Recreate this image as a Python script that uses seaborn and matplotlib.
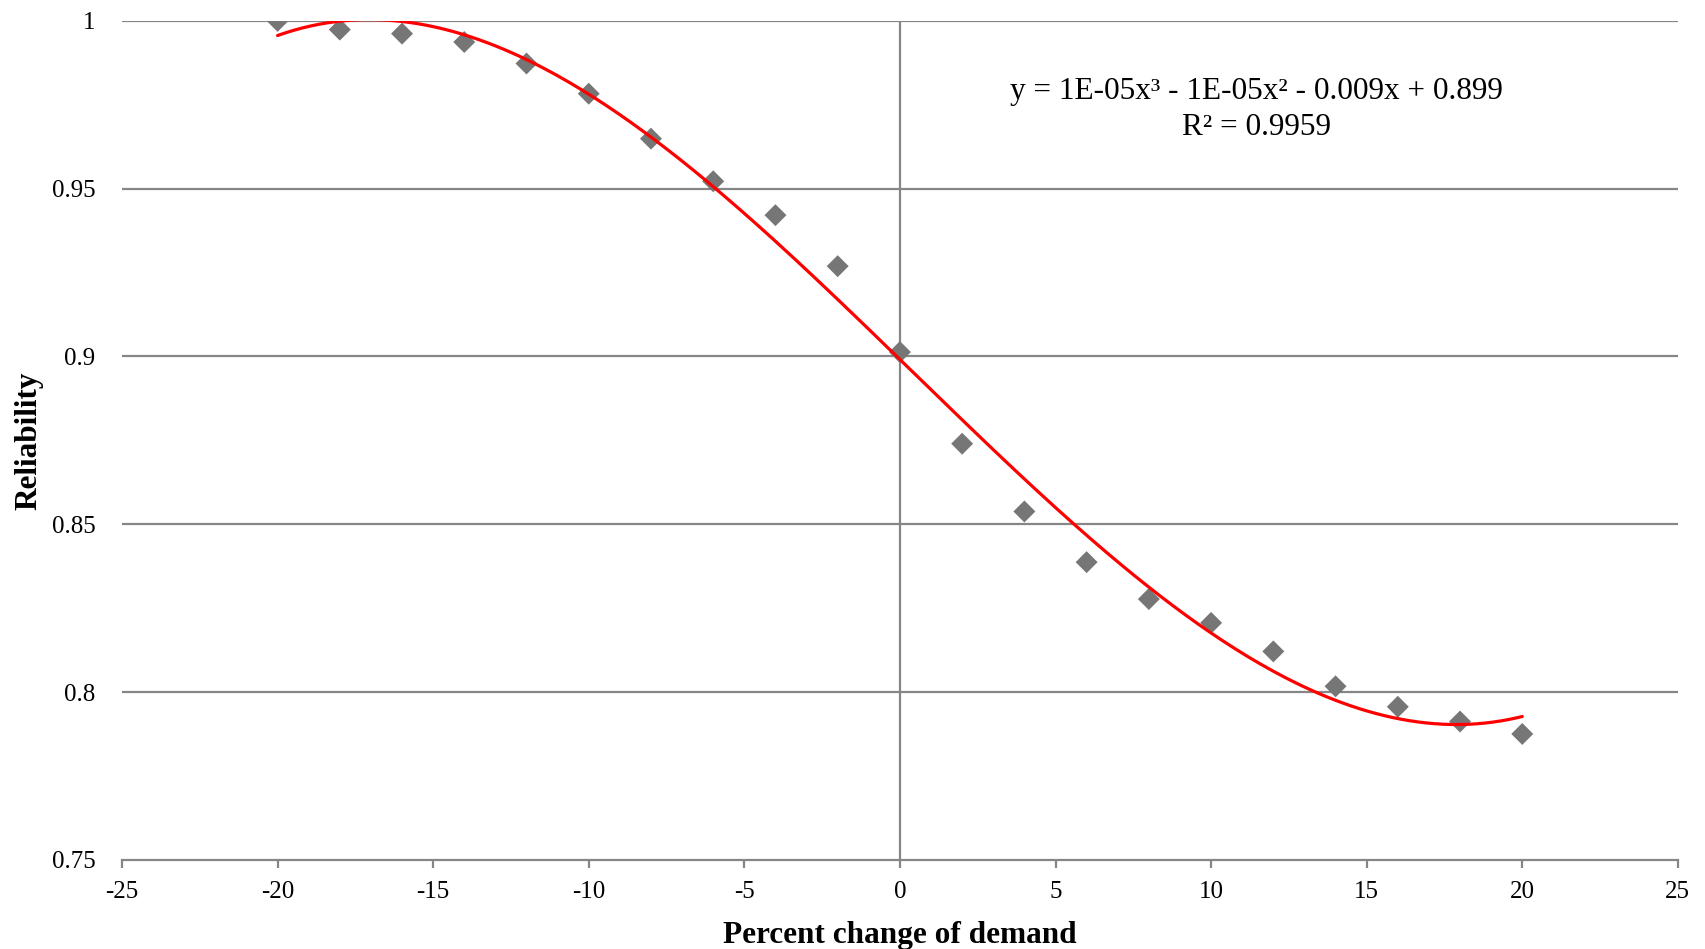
import numpy as np
import pandas as pd
import matplotlib
matplotlib.use("Agg")
import matplotlib.pyplot as plt
import seaborn as sns

# Data
demand_change = [-20, -18, -16, -14, -12, -10, -8, -6, -4, -2, 0, 2, 4, 6, 8, 10, 12, 14, 16, 18, 20]
reliability = [1.000, 0.9974, 0.9962, 0.9937, 0.9873, 0.9783, 0.9649, 0.9522, 0.9421, 0.9269,
               0.9013, 0.8740, 0.8538, 0.8387, 0.8277, 0.8206, 0.8121, 0.8017, 0.7956, 0.7912, 0.7875]
x_ticks = [-25, -20, -15, -10, -5, 0, 5, 10, 15, 20, 25]
y_ticks = [0.75, 0.8, 0.85, 0.9, 0.95, 1.0]
y_tick_labels = ["0.75", "0.8", "0.85", "0.9", "0.95", "1"]
equation_text = "y = 1E-05x³ - 1E-05x² - 0.009x + 0.899\nR² = 0.9959"

sns.set_theme(style="white")
plt.rcParams["font.family"] = ["Liberation Serif", "DejaVu Serif"]
plt.rcParams["text.color"] = "black"
plt.rcParams["axes.labelcolor"] = "black"

df = pd.DataFrame({"x": demand_change, "y": reliability})

# cubic trend line fitted to the data
coef = np.polyfit(df["x"], df["y"], 3)
xs = np.linspace(min(demand_change), max(demand_change), 300)
fit = pd.DataFrame({"x": xs, "y": np.polyval(coef, xs)})

fig = plt.figure(figsize=(17.06, 9.49), dpi=100)
ax = fig.add_axes([0.0715, 0.094, 0.912, 0.884])

grid_color = "#868686"
for yt in y_ticks[1:]:
    ax.axhline(yt, color=grid_color, lw=1.6, zorder=0)
ax.axvline(0, color=grid_color, lw=1.6, zorder=0)

sns.scatterplot(data=df, x="x", y="y", marker="D", s=125, color="#767676",
                edgecolor="none", ax=ax, zorder=2)
sns.lineplot(data=fit, x="x", y="y", color="#ff0000", lw=2.3, ax=ax, zorder=3)

ax.set_xlim(-25, 25)
ax.set_ylim(0.75, 1.0)
ax.set_xticks(x_ticks)
ax.set_xticklabels([str(t) for t in x_ticks], fontsize=18)
ax.set_yticks(y_ticks)
ax.set_yticklabels(y_tick_labels, fontsize=18)

for s in ["left", "right", "top"]:
    ax.spines[s].set_visible(False)
ax.spines["bottom"].set_color(grid_color)
ax.spines["bottom"].set_linewidth(1.6)
ax.tick_params(axis="x", bottom=True, direction="out", length=6, width=1.6,
               color=grid_color, pad=9, labelcolor="black")
ax.tick_params(axis="y", left=False, pad=13, labelcolor="black")

ax.set_xlabel("Percent change of demand", fontsize=22.5, fontweight="bold", labelpad=13)
ax.set_ylabel("Reliability", fontsize=22.5, fontweight="bold", labelpad=6)

ax.text(0.729, 0.894, equation_text, transform=ax.transAxes, ha="center", va="center",
        fontsize=22.5, linespacing=1.33)

fig.savefig("out.png", dpi=100)
